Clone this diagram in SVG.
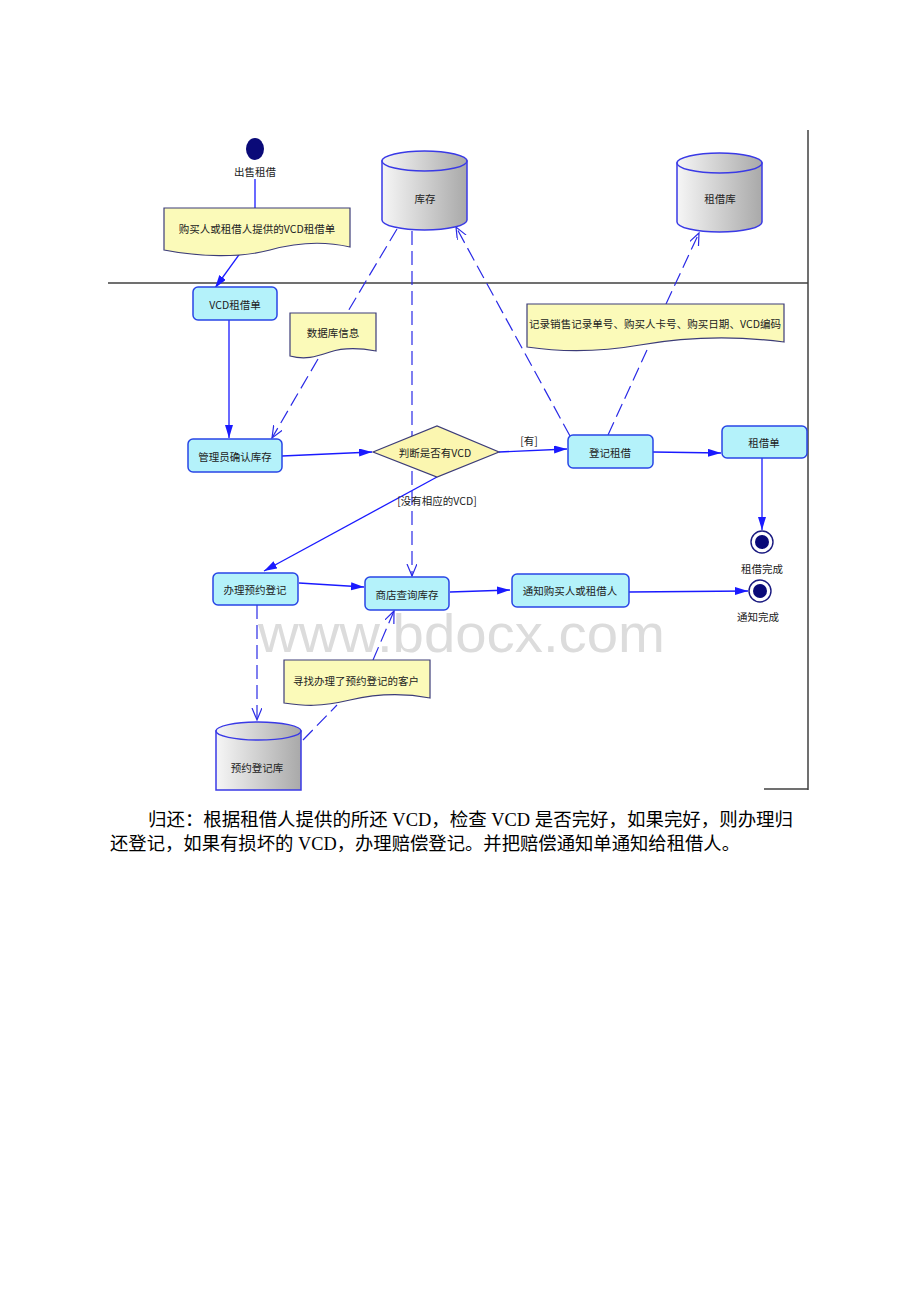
<svg xmlns="http://www.w3.org/2000/svg" width="920" height="1302" viewBox="0 0 920 1302">
<style>
.frame{stroke:#404040;stroke-width:1.5;fill:none}
.box{fill:#b4f2fa;stroke:#2846e6;stroke-width:1.5}
.note{fill:#fbfab9;stroke:#3c3c78;stroke-width:1.2}
.cyl{fill:url(#cg);stroke:#3a3ae6;stroke-width:1.5}
.dia{fill:#fbf6b0;stroke:#3c3c78;stroke-width:1.2}
.flow{stroke:#1a1aff;stroke-width:1.3;fill:none;marker-end:url(#fa)}
.line{stroke:#1a1aff;stroke-width:1.3;fill:none}
.obj{stroke:#2a2ae6;stroke-width:1.2;fill:none;stroke-dasharray:14 6}
.obja{stroke:#2a2ae6;stroke-width:1.2;fill:none;stroke-dasharray:14 6;marker-end:url(#oa)}
.t{font-family:"Noto Sans CJK SC",sans-serif;font-size:10.5px;fill:#222;text-anchor:middle;dominant-baseline:central}
.p{font-family:"Liberation Serif","Noto Sans CJK SC",serif;font-size:18px;fill:#000}
.wm{font-family:"Liberation Sans",Arial,sans-serif;font-size:54px;fill:#dcdcdc}
</style>
<defs>
<linearGradient id="cg" x1="0" y1="0" x2="1" y2="0">
<stop offset="0" stop-color="#f6f6f6"/>
<stop offset="1" stop-color="#a9a9a9"/>
</linearGradient>
<marker id="fa" markerUnits="userSpaceOnUse" markerWidth="14" markerHeight="10" refX="13" refY="4" orient="auto">
<path d="M0,0 L13,4 L0,8 Z" fill="#1a1aff"/>
</marker>
<marker id="oa" markerUnits="userSpaceOnUse" markerWidth="14" markerHeight="12" refX="12" refY="5" orient="auto">
<path d="M0,0 L12,5 L0,10" fill="none" stroke="#2a2ae6" stroke-width="1.2"/>
</marker>
</defs>
<rect width="920" height="1302" fill="#fff"/>

<g id="frame">
<line class="frame" x1="108" y1="283" x2="808" y2="283"/>
<line class="frame" x1="808" y1="130" x2="808" y2="790"/>
<line class="frame" x1="764" y1="789" x2="808" y2="789"/>
</g>

<text class="wm" x="258" y="652" textLength="407" lengthAdjust="spacingAndGlyphs">www.bdocx.com</text>

<g id="connectors">
<line class="line" x1="255" y1="179" x2="255" y2="208"/>
<path class="flow" d="M241,252 L215,288"/>
<path class="flow" d="M229,320 V438"/>
<path class="flow" d="M282,456 L372,452"/>
<path class="flow" d="M499,452 L567,449"/>
<path class="flow" d="M653,452 L721,453"/>
<path class="flow" d="M762,458 V530"/>
<path class="flow" d="M437,477 L264,571"/>
<path class="flow" d="M299,583 L364,587"/>
<path class="flow" d="M450,592 L510,590"/>
<path class="flow" d="M629,592 L748,591"/>
<path class="obj" d="M397,229 L347,313"/>
<path class="obja" d="M318,359 L272,438"/>
<path class="obja" d="M412,231 L412,576"/>
<path class="obja" d="M570,436 L456,227"/>
<path class="obj" d="M608,435 L647,350"/>
<path class="obja" d="M666,304 L699,233"/>
<path class="obja" d="M257,605 L257,720"/>
<path class="obj" d="M303,740 L337,705"/>
<path class="obja" d="M373,660 L394,611"/>
<text class="t" x="529" y="440">[有]</text>
<text class="t" x="437" y="500">[没有相应的VCD]</text>
</g>

<g id="start">
<ellipse cx="255" cy="149" rx="9" ry="11" fill="#0a0a78"/>
<text class="t" x="255" y="171">出售租借</text>
</g>

<g id="note1">
<path class="note" d="M164,208 H350 V247 C 320,240 295,243 270,250 C 240,258 200,257 164,250 Z"/>
<text class="t" x="257" y="228">购买人或租借人提供的VCD租借单</text>
</g>

<g id="db-stock">
<path class="cyl" d="M382,161 V220 A42.5,10 0 0 0 467,220 V161 Z"/>
<ellipse class="cyl" cx="424.5" cy="161" rx="42.5" ry="10"/>
<text class="t" x="425" y="198">库存</text>
</g>

<g id="db-rent">
<path class="cyl" d="M677,163 V222 A42.5,10 0 0 0 762,222 V163 Z"/>
<ellipse class="cyl" cx="719.5" cy="163" rx="42.5" ry="10"/>
<text class="t" x="720" y="198">租借库</text>
</g>

<g id="vcd-form">
<rect class="box" x="193" y="287" width="84" height="33" rx="5"/>
<text class="t" x="235" y="304">VCD租借单</text>
</g>

<g id="note-db">
<path class="note" d="M290,313 H376 V351 C 360,348 345,347 330,352 C 315,357 305,360 290,356 Z"/>
<text class="t" x="333" y="332">数据库信息</text>
</g>

<g id="note-record">
<path class="note" d="M527,304 H784 V342 C 730,335 680,338 640,345 C 600,352 560,352 527,347 Z"/>
<text class="t" x="655" y="323" textLength="252" lengthAdjust="spacingAndGlyphs">记录销售记录单号、购买人卡号、购买日期、VCD编码</text>
</g>

<g id="confirm">
<rect class="box" x="188" y="439" width="94" height="33" rx="5"/>
<text class="t" x="235" y="456">管理员确认库存</text>
</g>

<g id="decision">
<path class="dia" d="M373,452 L437,426 L499,452 L437,477 Z"/>
<text class="t" x="435" y="452">判断是否有VCD</text>
</g>

<g id="register">
<rect class="box" x="568" y="435" width="85" height="33" rx="5"/>
<text class="t" x="610" y="452">登记租借</text>
</g>

<g id="rent-form">
<rect class="box" x="722" y="426" width="85" height="32" rx="5"/>
<text class="t" x="764" y="442">租借单</text>
</g>

<g id="end1">
<circle cx="762" cy="542" r="11" fill="#fff" stroke="#1a1a80" stroke-width="1.4"/>
<circle cx="762" cy="542" r="7" fill="#0a0a78"/>
<text class="t" x="762" y="568">租借完成</text>
</g>

<g id="end2">
<circle cx="760" cy="591" r="11" fill="#fff" stroke="#1a1a80" stroke-width="1.4"/>
<circle cx="760" cy="591" r="7" fill="#0a0a78"/>
<text class="t" x="758" y="616">通知完成</text>
</g>

<g id="reserve">
<rect class="box" x="213" y="573" width="85" height="32" rx="5"/>
<text class="t" x="255" y="589">办理预约登记</text>
</g>

<g id="query">
<rect class="box" x="365" y="577" width="84" height="33" rx="5"/>
<text class="t" x="407" y="594">商店查询库存</text>
</g>

<g id="notify">
<rect class="box" x="512" y="574" width="117" height="33" rx="5"/>
<text class="t" x="570" y="590">通知购买人或租借人</text>
</g>

<g id="note-find">
<path class="note" d="M284,660 H430 V698 C 400,692 375,694 350,700 C 320,707 305,706 284,703 Z"/>
<text class="t" x="356" y="680">寻找办理了预约登记的客户</text>
</g>

<g id="db-reserve">
<path class="cyl" d="M216,731 V790 H301 V731 Z"/>
<ellipse class="cyl" cx="258.5" cy="731" rx="42.5" ry="9"/>
<text class="t" x="257" y="767">预约登记库</text>
</g>

<g id="paragraph">
<text class="p" x="148" y="826" textLength="645" lengthAdjust="spacingAndGlyphs">归还：根据租借人提供的所还 VCD，检查 VCD 是否完好，如果完好，则办理归</text>
<text class="p" x="110" y="850" textLength="630" lengthAdjust="spacingAndGlyphs">还登记，如果有损坏的 VCD，办理赔偿登记。并把赔偿通知单通知给租借人。</text>
</g>
</svg>
